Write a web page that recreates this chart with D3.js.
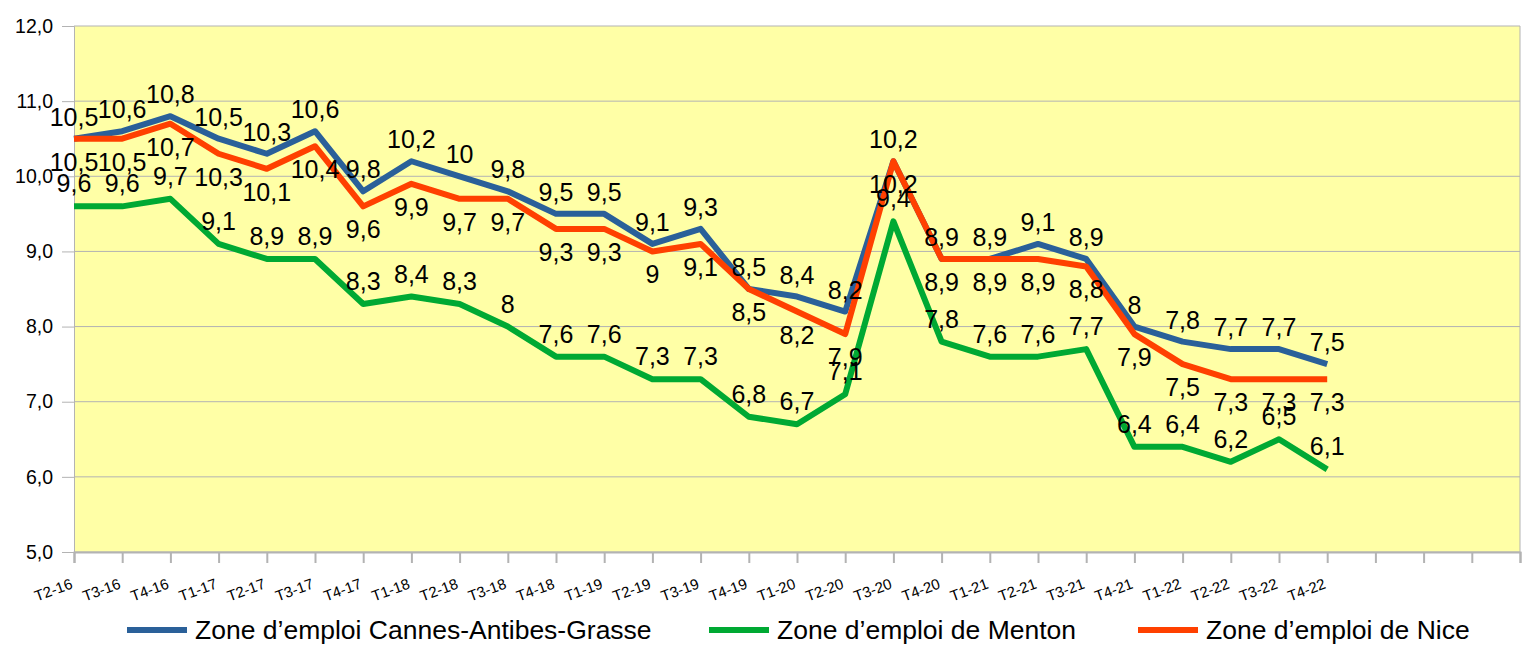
<!DOCTYPE html>
<html>
<head>
<meta charset="utf-8">
<script src="https://cdn.jsdelivr.net/npm/d3@7"></script>
<style>
  body { margin: 0; background: #fff; }
  svg { font-family: "Liberation Sans", Arial, sans-serif; }
</style>
</head>
<body>
<script>
var svgWidth = 1531;
var svgHeight = 646;

var categories = ["T2-16", "T3-16", "T4-16", "T1-17", "T2-17", "T3-17", "T4-17", "T1-18", "T2-18", "T3-18",
    "T4-18", "T1-19", "T2-19", "T3-19", "T4-19", "T1-20", "T2-20", "T3-20", "T4-20", "T1-21",
    "T2-21", "T3-21", "T4-21", "T1-22", "T2-22", "T3-22", "T4-22"];
var cannes = [10.5, 10.6, 10.8, 10.5, 10.3, 10.6, 9.8, 10.2, 10, 9.8, 9.5, 9.5, 9.1, 9.3, 8.5, 8.4, 8.2, 10.2,
    8.9, 8.9, 9.1, 8.9, 8, 7.8, 7.7, 7.7, 7.5];
var menton = [9.6, 9.6, 9.7, 9.1, 8.9, 8.9, 8.3, 8.4, 8.3, 8, 7.6, 7.6, 7.3, 7.3, 6.8, 6.7, 7.1, 9.4,
    7.8, 7.6, 7.6, 7.7, 6.4, 6.4, 6.2, 6.5, 6.1];
var nice = [10.5, 10.5, 10.7, 10.3, 10.1, 10.4, 9.6, 9.9, 9.7, 9.7, 9.3, 9.3, 9, 9.1, 8.5, 8.2, 7.9, 10.2,
    8.9, 8.9, 8.9, 8.8, 7.9, 7.5, 7.3, 7.3, 7.3];
var yTicks = [5, 6, 7, 8, 9, 10, 11, 12];
var slots = 30; // the axis keeps 3 empty quarters after T4-22

var series = [
    { name: "Zone d\u2019emploi Cannes-Antibes-Grasse", values: cannes, color: "#2a6099", labelDy: -13 },
    { name: "Zone d\u2019emploi de Menton", values: menton, color: "#00a933", labelDy: -14 },
    { name: "Zone d\u2019emploi de Nice", values: nice, color: "#ff4000", labelDy: 32 }
];

var plotLeft = 74, plotRight = 1520, plotTop = 26, plotBottom = 552;

var x = d3.scaleLinear().domain([0, slots]).range([plotLeft, plotRight]);
var y = d3.scaleLinear().domain([5, 12]).range([plotBottom, plotTop]);

var comma = function (d) { return String(d).replace(".", ","); };

var svg = d3.select("body")
    .append("svg")
    .attr("width", svgWidth)
    .attr("height", svgHeight);

// plot background
svg.append("rect")
    .attr("x", plotLeft)
    .attr("y", plotTop)
    .attr("width", plotRight - plotLeft)
    .attr("height", plotBottom - plotTop)
    .attr("fill", "#ffffa6");

// grid
svg.append("g")
    .selectAll("line")
    .data(yTicks)
    .enter()
    .append("line")
    .attr("x1", plotLeft)
    .attr("x2", plotRight)
    .attr("y1", function (d) { return y(d); })
    .attr("y2", function (d) { return y(d); })
    .attr("stroke", "#b3b3b3")
    .attr("stroke-width", 1);

svg.append("line")
    .attr("x1", plotRight).attr("x2", plotRight)
    .attr("y1", plotTop).attr("y2", plotBottom)
    .attr("stroke", "#b3b3b3");

// y axis
var yAxis = svg.append("g")
    .attr("transform", "translate(" + plotLeft + ",0)")
    .call(d3.axisLeft(y).tickValues(yTicks).tickSize(12).tickPadding(9)
        .tickFormat(function (d) { return d3.format(".1f")(d).replace(".", ","); }));
yAxis.selectAll("line").attr("stroke", "#b3b3b3");
yAxis.select(".domain").attr("stroke", "#b3b3b3");
yAxis.selectAll("text")
    .attr("font-family", "Liberation Sans, Arial, sans-serif")
    .attr("font-size", "19.5px")
    .attr("fill", "#000");

// x axis
var xAxis = svg.append("g")
    .attr("transform", "translate(0," + plotBottom + ")")
    .call(d3.axisBottom(x).tickValues(d3.range(slots + 1)).tickSize(11)
        .tickFormat(function (i) { return categories[i] || ""; }));
xAxis.selectAll("line").attr("stroke", "#b3b3b3").attr("stroke-width", 2);
xAxis.select(".domain").attr("stroke", "#b3b3b3").attr("stroke-width", 2);
xAxis.selectAll("text")
    .attr("font-family", "Liberation Sans, Arial, sans-serif")
    .attr("font-size", "15px")
    .attr("fill", "#000")
    .attr("text-anchor", "end")
    .attr("dy", null)
    .attr("y", 0)
    .attr("transform", "translate(-1,36) rotate(-20)");

// lines
var line = d3.line()
    .x(function (d, i) { return x(i); })
    .y(function (d) { return y(d); });

svg.append("g")
    .selectAll("path")
    .data(series)
    .enter()
    .append("path")
    .attr("d", function (s) { return line(s.values); })
    .attr("fill", "none")
    .attr("stroke", function (s) { return s.color; })
    .attr("stroke-width", 6)
    .attr("stroke-linejoin", "round");

// data labels
series.forEach(function (s) {
    svg.append("g")
        .selectAll("text")
        .data(s.values)
        .enter()
        .append("text")
        .text(comma)
        .attr("x", function (d, i) { return x(i); })
        .attr("y", function (d) { return y(d) + s.labelDy; })
        .attr("text-anchor", "middle")
        .attr("font-size", "25px")
        .attr("fill", "#000");
});

// legend
var legendX = [127, 709, 1138];
var legend = svg.append("g")
    .selectAll("g")
    .data(series)
    .enter()
    .append("g")
    .attr("transform", function (s, i) { return "translate(" + legendX[i] + ",630)"; });
legend.append("line")
    .attr("x1", 0).attr("x2", 60)
    .attr("stroke", function (s) { return s.color; })
    .attr("stroke-width", 6);
legend.append("text")
    .text(function (s) { return s.name; })
    .attr("x", 68)
    .attr("y", 9)
    .attr("font-size", "26.5px")
    .attr("fill", "#000");
</script>
</body>
</html>
